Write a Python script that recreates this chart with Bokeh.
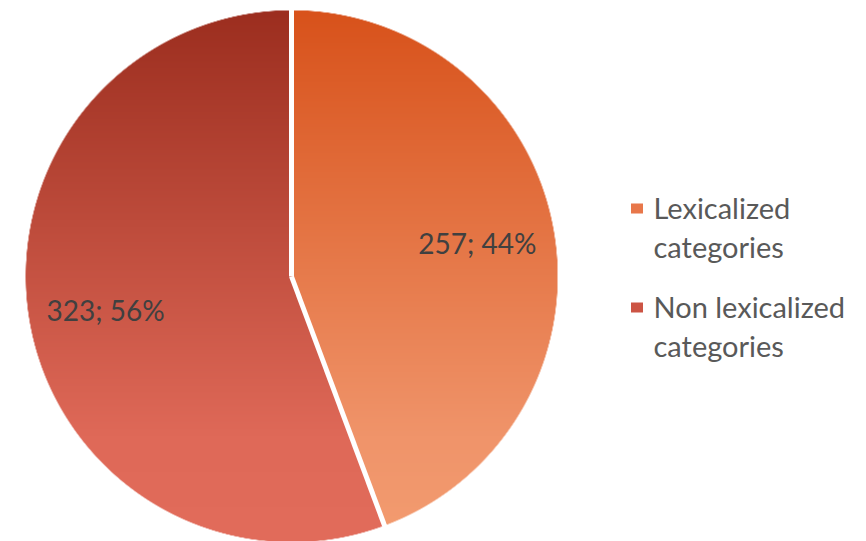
import numpy as np
from bokeh.plotting import figure
from bokeh.models import Range1d
from bokeh.core.properties import value
from bokeh.embed import file_html
from bokeh.resources import INLINE

# ---- data ----
categories = ["Lexicalized categories", "Non lexicalized categories"]
legend_lines = [["Lexicalized", "categories"], ["Non lexicalized", "categories"]]
counts = [257, 323]
label_texts = ["257; 44%", "323; 56%"]
top_colors = ["#D8521B", "#9C2E1F"]
light_colors = ["#F0946A", "#DF6958"]
bottom_colors = ["#F39C70", "#E26C5B"]
mid_colors = ["#E8774A", "#CC5444"]

# ---- layout (screen-like units, y up) ----
W, H = 866, 541
cx, cy, R = 291.0, 541 - 276.0, 266.0
FONT = "Lato"

p = figure(width=W, height=H, x_range=Range1d(0, W), y_range=Range1d(0, H),
           output_backend="svg", toolbar_location=None, min_border=0,
           background_fill_color="white", border_fill_color="white")
p.axis.visible = False
p.xgrid.visible = False
p.ygrid.visible = False
p.outline_line_color = None

total = float(sum(counts))
fracs = [c / total for c in counts]
cum = np.concatenate([[0.0], np.cumsum(fracs)])
starts = [np.pi / 2 - 2 * np.pi * cum[i] for i in range(len(counts))]
ends = [np.pi / 2 - 2 * np.pi * cum[i + 1] for i in range(len(counts))]

# base wedges (solid), drawn by bokeh
p.wedge(x=[cx] * len(counts), y=[cy] * len(counts), radius=R - 1,
        start_angle=starts, end_angle=ends, direction="clock",
        fill_color=mid_colors, line_color=None)

# gradient overlay as an RGBA image computed from the same data
def hex2rgb(h):
    h = h.lstrip("#")
    return np.array([int(h[i:i + 2], 16) for i in (0, 2, 4)], dtype=float)

N = int(2 * R) * 2
step = 2 * R / N
coords = (np.arange(N) + 0.5) * step - R
DX, DY = np.meshgrid(coords, coords)  # row 0 = bottom
rr = np.hypot(DX, DY)
alpha = np.clip((R - rr) / step + 0.5, 0, 1)
ang = np.mod(np.arctan2(DX, DY), 2 * np.pi)  # clockwise from top
t = (R - DY) / (2 * R)  # 0 at top, 1 at bottom
img = np.zeros((N, N, 4), dtype=np.uint8)
for i in range(len(counts)):
    mask = (ang >= 2 * np.pi * cum[i]) & (ang < 2 * np.pi * cum[i + 1])
    c0, c1, c2 = hex2rgb(top_colors[i]), hex2rgb(light_colors[i]), hex2rgb(bottom_colors[i])
    for k in range(3):
        ch = np.interp(t, [0.0, 0.8, 1.0], [c0[k], c1[k], c2[k]])
        img[..., k] = np.where(mask, ch, img[..., k]).astype(np.uint8)
img[..., 3] = (alpha * 255).astype(np.uint8)
rgba = img.view(dtype=np.uint32).reshape((N, N))
p.image_rgba(image=[rgba], x=cx - R, y=cy - R, dw=2 * R, dh=2 * R)

# white separators
bx = [cx + (R + 2) * np.cos(a) for a in starts]
by = [cy + (R + 2) * np.sin(a) for a in starts]
p.segment(x0=[cx] * len(bx), y0=[cy] * len(by), x1=bx, y1=by,
          line_color="white", line_width=5)

# data labels
mids = [(s + e) / 2 for s, e in zip(starts, ends)]
lr = 0.71 * R
p.text(x=[cx + lr * np.cos(m) for m in mids], y=[cy + lr * np.sin(m) for m in mids],
       text=label_texts, text_font=value(FONT), text_font_size="28px",
       text_color="#404040", text_align="center", text_baseline="middle")

# legend
sq_x = 636.5
sq_y = [H - 208, H - 307]
p.rect(x=[sq_x] * 2, y=sq_y, width=12, height=10, fill_color=mid_colors, line_color=None)
tx, ty, tl = [], [], []
for i, lines in enumerate(legend_lines):
    for j, ln in enumerate(lines):
        tx.append(653)
        ty.append(sq_y[i] + 1 - 39 * j)
        tl.append(ln)
p.text(x=tx, y=ty, text=tl, text_font=value(FONT), text_font_size="29px",
       text_color="#595959", text_align="left", text_baseline="middle")

open("out.html", "w").write(file_html(p, INLINE))
